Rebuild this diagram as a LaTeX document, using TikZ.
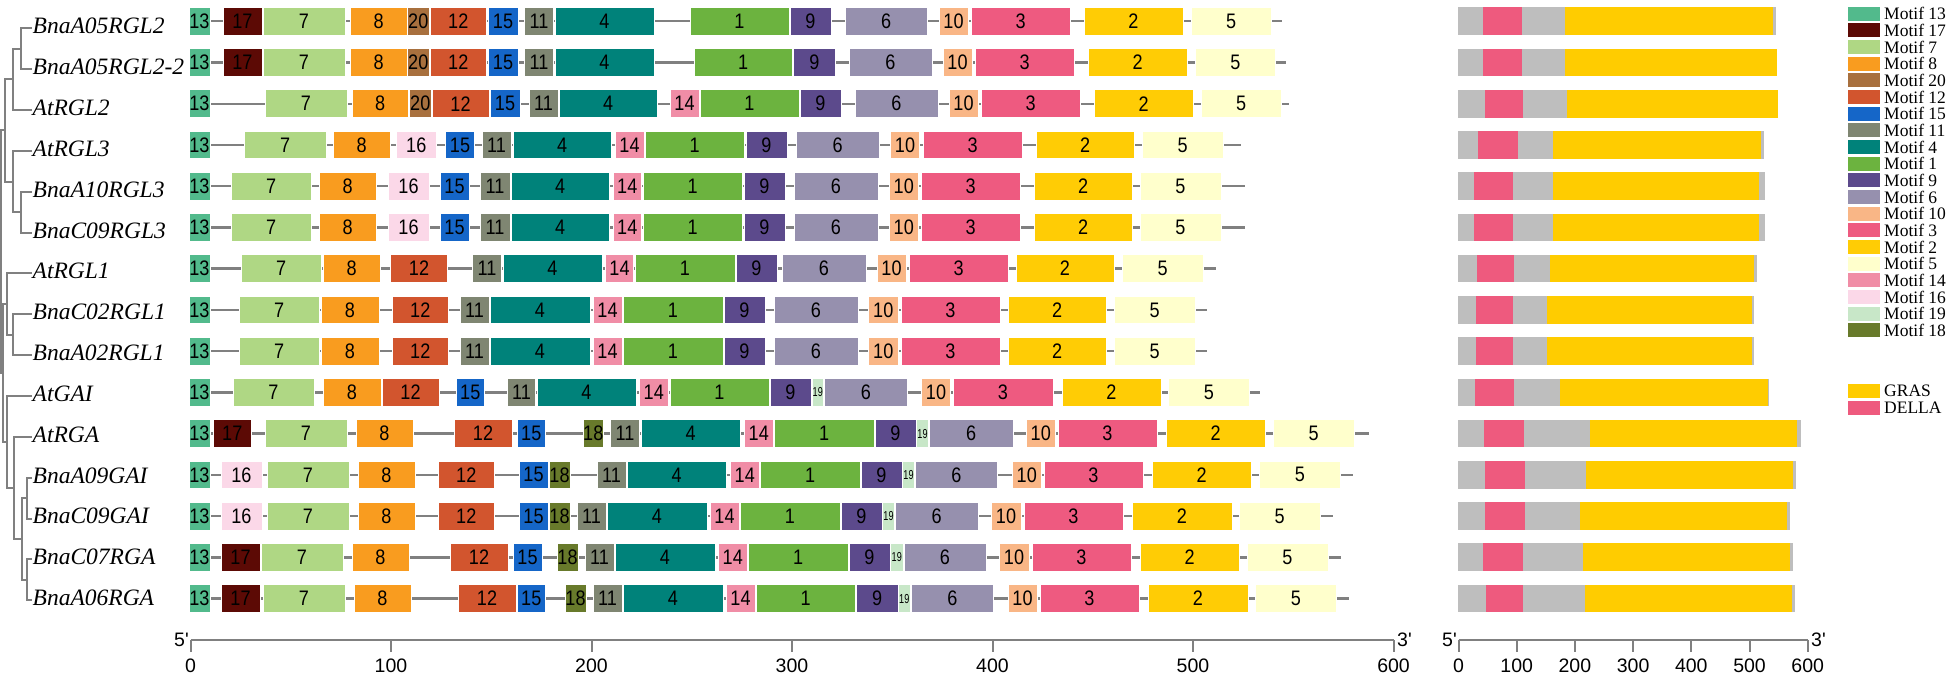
\documentclass[tikz,border=0pt]{standalone}
\usepackage{fontspec}
\setmainfont{Liberation Serif}
\newfontfamily\labfont{Liberation Sans}
\newfontfamily\motfont[FakeStretch=0.86]{Liberation Sans}
\newfontfamily\smallfont[FakeStretch=0.7]{Liberation Sans}

\definecolor{c13}{HTML}{52BA8C}
\definecolor{c17}{HTML}{5C0A05}
\definecolor{c7}{HTML}{AFD784}
\definecolor{c8}{HTML}{F99C1F}
\definecolor{c20}{HTML}{A8703E}
\definecolor{c12}{HTML}{D2552E}
\definecolor{c15}{HTML}{1566C8}
\definecolor{c11}{HTML}{7F8672}
\definecolor{c4}{HTML}{00827A}
\definecolor{c1}{HTML}{6CB33F}
\definecolor{c9}{HTML}{5C4A8C}
\definecolor{c6}{HTML}{9690AE}
\definecolor{c10}{HTML}{F9B686}
\definecolor{c3}{HTML}{EE5A80}
\definecolor{c2}{HTML}{FFCC05}
\definecolor{c5}{HTML}{FFFFCC}
\definecolor{c14}{HTML}{F08DA6}
\definecolor{c16}{HTML}{FBD8E8}
\definecolor{c19}{HTML}{C8E7C8}
\definecolor{c18}{HTML}{687A2B}
\definecolor{gras}{HTML}{FFCC00}
\definecolor{della}{HTML}{EE5A7E}
\definecolor{dgray}{HTML}{BEBEBE}
\definecolor{lgray}{HTML}{808080}

\tikzset{
  geneline/.style={draw=lgray, line width=2.4pt},
  treeline/.style={draw=lgray, line width=2pt},
  axisline/.style={draw=lgray, line width=2pt},
  mlab/.style={font=\motfont\fontsize{21}{21}\selectfont, inner sep=0pt, text=black},
  slab/.style={font=\smallfont\fontsize{13}{13}\selectfont, inner sep=0pt, text=black},
  ticklab/.style={font=\labfont\fontsize{19.5}{20}\selectfont, inner sep=0pt, anchor=base},
  gname/.style={font=\fontsize{23.5}{24}\selectfont\itshape, inner sep=0pt, anchor=west},
  legtext/.style={font=\fontsize{17.5}{18}\selectfont, inner sep=0pt, anchor=west},
}

\newcommand\generow[3]{%
  \draw[geneline] (190.5,#1) -- (#2,#1);
  \foreach \a/\b/\m in #3 {%
    \fill[c\m,draw=white,line width=0.8pt] (\a,#1-13.85) rectangle (\b,#1+13.85);
    \ifnum\m=19 \node[slab] at ({(\a+\b)/2},#1) {\m};%
    \else \node[mlab] at ({(\a+\b)/2},#1) {\m};\fi
  }%
}
\newcommand\domrow[6]{%
  \fill[dgray] (1458.3,#1-13.85) rectangle (#6,#1+13.85);
  \fill[della] (#2,#1-13.85) rectangle (#3,#1+13.85);
  \fill[gras] (#4,#1-13.85) rectangle (#5,#1+13.85);
}
\newcommand\clade[5]{% x of node, y1, x1 (child1), y2, x2 (child2)
  \draw[treeline] (#3,#2) -- (#1,#2) -- (#1,#4) -- (#5,#4);
}

\def\rowA{189/210/13, 223/262/17, 263/345/7, 350/407.5/8, 407.5/429/20, 430/486.5/12, 488/518/15, 524.5/553.5/11, 555/654/4, 690/789/1, 790/831/9, 845/927.5/6, 939/968/10, 971/1070.5/3, 1084/1183/2, 1191.5/1271/5}
\def\rowB{189/210/13, 223/262/17, 263/345/7, 350/407.5/8, 407.5/429/20, 430/486.5/12, 488/518/15, 524.5/553.5/11, 555/654/4, 694/792.5/1, 793.5/835.5/9, 849/932/6, 943/972/10, 975/1074.5/3, 1088/1187.5/2, 1195.5/1275.5/5}
\def\rowC{189/210/13, 265/347/7, 352/408.5/8, 409.5/431/20, 432/489/12, 490/520/15, 529/558/11, 559/657.5/4, 670/699/14, 700/799/1, 800/841/9, 855/938/6, 949/978/10, 981/1080.5/3, 1094/1193.5/2, 1201/1281.5/5}
\def\rowD{189/210/13, 244.5/326/7, 333/390.5/8, 396/436.5/16, 445.5/474.5/15, 482/511/11, 513/611.5/4, 615/644/14, 645/744.5/1, 746/787/9, 796/879.5/6, 890.5/919.5/10, 923/1022.5/3, 1036/1134.5/2, 1142.5/1223/5}
\def\rowE{189/210/13, 231/311.5/7, 319/376.5/8, 388/429/16, 440/469/15, 480/510/11, 511/609.5/4, 613/641.5/14, 643/742.5/1, 744/785/9, 794/878/6, 889/918.5/10, 921/1020.5/3, 1034/1132.5/2, 1140/1221/5}
\def\rowG{189/210/13, 241/321.5/7, 323/380.5/8, 390.5/447.5/12, 472.5/501.5/11, 503/602/4, 605.5/633.5/14, 635/735/1, 736/777/9, 782/866/6, 877/906/10, 909/1008.5/3, 1016/1114/2, 1122.5/1203/5}
\def\rowH{189/210/13, 239/319.5/7, 321/379/8, 392/448.5/12, 460/489/11, 490/590/4, 593/622/14, 623/723/1, 724/765/9, 774/858/6, 868.5/898/10, 901/1000/3, 1008/1106.5/2, 1114/1195.5/5}
\def\rowJ{189/210/13, 233/314/7, 323/381/8, 382/439/12, 456/484.5/15, 507.5/535.5/11, 537/636/4, 639/668.5/14, 670/769/1, 770/811/9, 812/823.5/19, 824.5/907.5/6, 921.5/950.5/10, 953/1053/3, 1062/1161/2, 1168.5/1249.5/5}
\def\rowK{189/210/13, 213/251.5/17, 265/347/7, 356/413/8, 454/512/12, 517/545.5/15, 583/603.5/18, 610.5/639.5/11, 641/740.5/4, 744/773.5/14, 774.5/874/1, 875/916/9, 916.5/928.5/19, 929.5/1013/6, 1026/1055.5/10, 1058/1157/3, 1166/1265.5/2, 1273/1354.5/5}
\def\rowL{189/210/13, 221/262/16, 267/349/7, 358/415/8, 438/494.5/12, 519/548/15, 549/570/18, 597/626/11, 627/726.5/4, 730/759.5/14, 760.5/860/1, 861/902/9, 902.5/914.5/19, 915.5/997.5/6, 1012/1041.5/10, 1044/1143/3, 1152/1251.5/2, 1259.5/1340.5/5}
\def\rowM{189/210/13, 221/262/16, 267/349/7, 358/415/8, 438/494.5/12, 519/548/15, 549/570/18, 577/606/11, 607/707/4, 710/739/14, 740/840/1, 841/882/9, 882.5/894.5/19, 895.5/978/6, 991/1021/10, 1024/1123/3, 1132/1232/2, 1239.5/1320/5}
\def\rowN{189/210/13, 221/260/17, 261/343/7, 352/409/8, 450/508/12, 513/542/15, 557/578/18, 585/614/11, 615/715/4, 718/747.5/14, 748.5/848/1, 849/890/9, 890.5/903/19, 904/986/6, 999/1029/10, 1032/1131/3, 1140/1239.5/2, 1247/1328/5}
\def\rowO{189/210/13, 221/260/17, 263/345/7, 354/411/8, 458/516/12, 517/545.5/15, 565/586/18, 593/622/11, 623/723/4, 726/755/14, 756/855.5/1, 856.5/898/9, 898/910.5/19, 911.5/993.5/6, 1008/1037/10, 1040/1139/3, 1148/1248/2, 1255.5/1336.5/5}

\begin{document}
\begin{tikzpicture}[x=1pt,y=-1pt]
\useasboundingbox (0,0) rectangle (1952,673);

% ---------- tree ----------
\clade{21.4}{28.3}{32}{69.15}{32}
\clade{13.4}{48.7}{21.4}{110}{32}
\clade{21.4}{191.7}{32}{232.55}{32}
\clade{13.4}{150.85}{32}{212.1}{21.4}
\clade{5.4}{79.4}{13.4}{181.5}{13.4}
\clade{13.4}{314.25}{32}{355.1}{32}
\clade{6.7}{273.4}{32}{334.7}{13.4}
\clade{26.7}{477.65}{32}{518.5}{32}
\clade{26.7}{559.35}{32}{600.2}{32}
\clade{21.7}{498.1}{26.7}{579.8}{26.7}
\clade{14}{436.8}{32}{538.9}{21.7}
\clade{6.7}{395.95}{32}{487.9}{14}
\clade{3}{304}{6.7}{441.9}{6.7}
\clade{1}{130.4}{5.4}{373}{3}

% ---------- gene names ----------
\node[gname] (g1) at (32.5,26) {BnaA05RGL2};
\node[gname] (g2) at (32.5,66.9) {BnaA05RGL2-2};
\node[gname] (g3) at (32.5,107.7) {AtRGL2};
\node[gname] (g4) at (32.5,148.6) {AtRGL3};
\node[gname] (g5) at (32.5,189.4) {BnaA10RGL3};
\node[gname] (g6) at (32.5,230.3) {BnaC09RGL3};
\node[gname] (g7) at (32.5,271.1) {AtRGL1};
\node[gname] (g8) at (32.5,312) {BnaC02RGL1};
\node[gname] (g9) at (32.5,352.8) {BnaA02RGL1};
\node[gname] (g10) at (32.5,393.7) {AtGAI};
\node[gname] (g11) at (32.5,434.5) {AtRGA};
\node[gname] (g12) at (32.5,475.4) {BnaA09GAI};
\node[gname] (g13) at (32.5,516.2) {BnaC09GAI};
\node[gname] (g14) at (32.5,557.1) {BnaC07RGA};
\node[gname] (g15) at (32.5,597.9) {BnaA06RGA};

% ---------- motif rows ----------
\generow{21.2}{1282}{\rowA}
\generow{62.4}{1286}{\rowB}
\generow{103.7}{1288.5}{\rowC}
\generow{144.9}{1240.5}{\rowD}
\generow{186.2}{1244.5}{\rowE}
\generow{227.4}{1244.5}{\rowE}
\generow{268.6}{1215.5}{\rowG}
\generow{309.9}{1207}{\rowH}
\generow{351.1}{1207}{\rowH}
\generow{392.4}{1260}{\rowJ}
\generow{433.6}{1368.5}{\rowK}
\generow{474.8}{1353}{\rowL}
\generow{516.1}{1333}{\rowM}
\generow{557.3}{1340.5}{\rowN}
\generow{598.6}{1348.5}{\rowO}

% ---------- domain rows ----------
\domrow{21.2}{1483}{1522}{1565}{1773}{1776}
\domrow{62.4}{1483}{1522}{1565}{1776.5}{1777}
\domrow{103.7}{1485}{1523}{1567}{1777.5}{1778}
\domrow{144.9}{1478}{1518}{1553}{1761}{1764}
\domrow{186.2}{1474}{1513}{1553}{1759}{1765}
\domrow{227.4}{1474}{1513}{1553}{1759}{1765}
\domrow{268.6}{1477}{1514}{1549.5}{1754}{1757}
\domrow{309.9}{1476}{1513}{1546.5}{1752}{1754}
\domrow{351.1}{1476}{1513}{1546.5}{1751.5}{1754}
\domrow{392.4}{1475}{1514}{1559.5}{1768}{1769}
\domrow{433.6}{1484}{1524}{1590}{1797}{1801}
\domrow{474.8}{1485}{1525}{1585.5}{1793}{1796}
\domrow{516.1}{1485}{1525}{1580}{1786.5}{1790}
\domrow{557.3}{1483}{1523}{1583}{1790}{1793}
\domrow{598.6}{1486}{1523}{1584.5}{1792}{1795}

% ---------- axes ----------
\draw[axisline] (190.5,640) -- (1393.5,640);
\foreach \v in {0,100,...,600}{
  \draw[axisline] (190.5+2.005*\v,640) -- ++(0,12);
  \node[ticklab] at (190.5+2.005*\v,672) {\v};
}
\node[ticklab,anchor=base east] (l5) at (189,646) {5'};
\node[ticklab,anchor=base west] (l3) at (1397,646) {3'};

\draw[axisline] (1458.5,640) -- (1807.7,640);
\foreach \v in {0,100,...,600}{
  \draw[axisline] (1458.5+0.582*\v,640) -- ++(0,12);
  \node[ticklab] at (1458.5+0.582*\v,672) {\v};
}
\node[ticklab,anchor=base east] (r5) at (1457,646) {5'};
\node[ticklab,anchor=base west] (r3) at (1811,646) {3'};

% ---------- legend ----------
\foreach \m [count=\i from 0] in {13,17,7,8,20,12,15,11,4,1,9,6,10,3,2,5,14,16,19,18}{
  \fill[c\m] (1848,6.7+16.67*\i) rectangle (1880,20.7+16.67*\i);
  \node[legtext] (leg\m) at (1884,13.7+16.67*\i) {Motif \m};
}
\fill[gras] (1848,384) rectangle (1880,398);
\node[legtext] (lgras) at (1884,391) {GRAS};
\fill[della] (1848,400.7) rectangle (1880,414.7);
\node[legtext] (ldella) at (1884,407.7) {DELLA};
\end{tikzpicture}
\end{document}
